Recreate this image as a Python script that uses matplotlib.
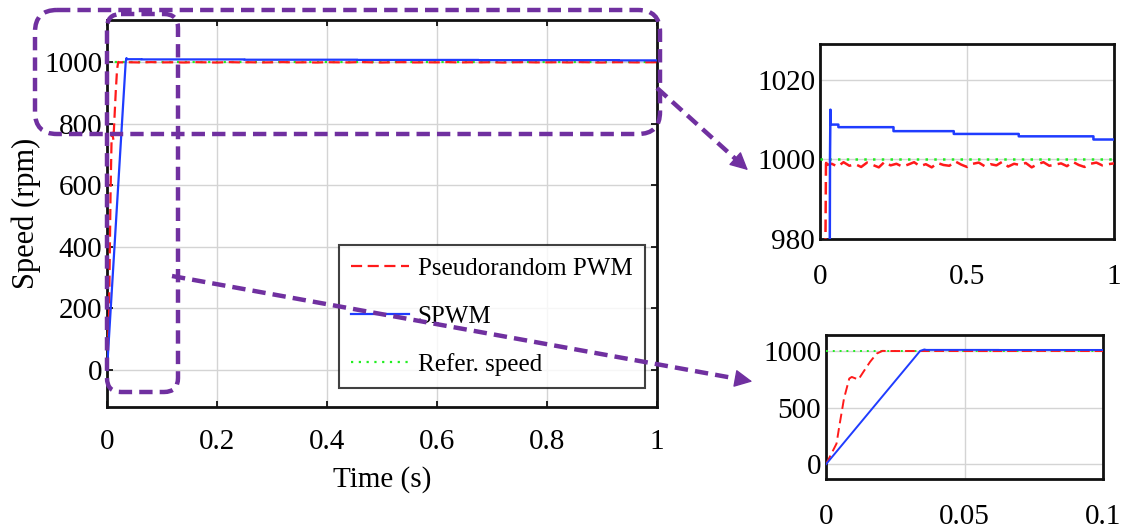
import matplotlib
matplotlib.use("Agg")
import matplotlib.pyplot as plt
import numpy as np
from matplotlib.patches import FancyBboxPatch

plt.rcParams['font.family'] = ['Liberation Serif', 'DejaVu Serif']

# SPWM speed response: linear ramp, small overshoot, then slowly falling plateaus
spwm_t = [0, 0.034, 0.0355, 0.0362, 0.0625, 0.0625, 0.25, 0.25, 0.455, 0.455,
          0.676, 0.676, 0.93, 0.93, 1.0]
spwm_v = [0, 1000, 1012.5, 1008.75, 1008.75, 1008.1, 1008.1, 1007.1, 1007.1, 1006.4,
          1006.4, 1005.8, 1005.8, 1005.0, 1005.0]

# pseudorandom PWM: faster start-up, then rippling just below the reference
prpwm_start_t = [0, 0.0038, 0.0048, 0.0065, 0.0084, 0.0093, 0.0117, 0.0135, 0.0159,
                 0.0183, 0.0204, 0.022]
prpwm_start_v = [0, 182, 335, 580, 756, 770, 747, 815, 903, 976, 1000, 998.6]
prpwm_ripple = [998.9, 998.2, 999.3, 998.4, 998.8, 998.1, 999.2, 998.6, 998.0, 999.4,
                998.5, 998.9, 998.2, 998.7, 999.3, 998.3, 998.8, 998.0, 999.1, 998.6,
                998.4, 999.5, 998.7, 998.1, 998.9, 999.2, 998.3, 998.8, 998.5, 999.4,
                998.2, 998.9, 998.6, 999.1, 998.0, 998.8, 999.3, 998.4, 998.7, 999.0,
                998.3, 999.4, 998.6, 998.1, 998.9, 999.2, 998.5, 998.8, 999.0]
prpwm_t = prpwm_start_t + list(np.linspace(0.04, 1.0, len(prpwm_ripple)))
prpwm_v = prpwm_start_v + prpwm_ripple

ref_t = [0, 1.0]
ref_v = [1000, 1000]

main_xticks = [0, 0.2, 0.4, 0.6, 0.8, 1]
main_xlabels = ['0', '0.2', '0.4', '0.6', '0.8', '1']
main_yticks = [0, 200, 400, 600, 800, 1000]

purple = '#7030a0'
red = '#ff1a1a'
blue = '#1f3cff'
green = '#22ee22'
fs = 21

W, H = 1122, 531
fig = plt.figure(figsize=(W / 100, H / 100), dpi=100)


def draw_series(ax, lw=1.6):
    ax.plot(ref_t, ref_v, color=green, linestyle=(0, (1, 2.5)), lw=lw, zorder=3,
            label='Refer. speed')
    ax.plot(prpwm_t, prpwm_v, color=red, linestyle=(0, (5, 2.5)), lw=lw, zorder=4,
            label='Pseudorandom PWM')
    ax.plot(spwm_t, spwm_v, color=blue, lw=lw, zorder=5, label='SPWM')


def style_axes(ax, xpad):
    for s in ax.spines.values():
        s.set_linewidth(2)
        s.set_color('#111111')
    ax.grid(True, color='#d4d4d4', lw=1)
    ax.set_axisbelow(True)
    ax.tick_params(direction='in', top=True, right=True, length=4, width=1.2,
                   labelsize=fs)
    ax.tick_params(axis='x', pad=xpad)


# main plot
ax = fig.add_axes([107 / W, 1 - 407 / H, 550 / W, 387 / H])
draw_series(ax)
ax.set_xlim(0, 1)
ax.set_ylim(-120, 1136)
ax.set_xticks(main_xticks)
ax.set_xticklabels(main_xlabels)
ax.set_yticks(main_yticks)
style_axes(ax, 16)
ax.set_xlabel('Time (s)', fontsize=fs, labelpad=8)
ax.set_ylabel('Speed (rpm)', fontsize=22, labelpad=2)
handles, labels = ax.get_legend_handles_labels()
order = [1, 2, 0]
leg = ax.legend([handles[i] for i in order], [labels[i] for i in order],
                loc='lower right', bbox_to_anchor=(0.978, 0.049), borderaxespad=0,
                fontsize=18, frameon=True, fancybox=False, edgecolor='#111111',
                handlelength=2.3, handletextpad=0.35, labelspacing=1.0,
                borderpad=0.5)
leg.get_frame().set_linewidth(1.5)

# zoom on the steady state
ax1 = fig.add_axes([820 / W, 1 - 239 / H, 294 / W, 195 / H])
draw_series(ax1, lw=1.8)
ax1.set_xlim(0, 1)
ax1.set_ylim(980, 1029)
ax1.set_xticks([0, 0.5, 1])
ax1.set_xticklabels(['0', '0.5', '1'])
ax1.set_yticks([980, 1000, 1020])
style_axes(ax1, 18)
ax1.tick_params(length=0)

# zoom on the start-up
ax2 = fig.add_axes([826 / W, 1 - 479 / H, 277 / W, 144 / H])
draw_series(ax2, lw=1.4)
ax2.set_xlim(0, 0.1)
ax2.set_ylim(-130, 1140)
ax2.set_xticks([0, 0.05, 0.1])
ax2.set_xticklabels(['0', '0.05', '0.1'])
ax2.set_yticks([0, 500, 1000])
style_axes(ax2, 18)
ax2.tick_params(length=0)

# purple dashed call-outs drawn in pixel coordinates
ov = fig.add_axes([0, 0, 1, 1], zorder=10)
ov.set_xlim(0, W)
ov.set_ylim(H, 0)
ov.axis('off')
ov.patch.set_alpha(0)

box_style = dict(fill=False, edgecolor=purple, lw=3.2, linestyle=(0, (3, 1.6)))
ov.add_patch(FancyBboxPatch((35, 10), 625, 124,
                            boxstyle='round,pad=0,rounding_size=22', **box_style))
ov.add_patch(FancyBboxPatch((107, 14), 71, 378,
                            boxstyle='round,pad=0,rounding_size=14', **box_style))

for (x0, y0), (x1, y1) in [((657, 88), (750, 172)), ((172, 276), (755, 382))]:
    d = np.hypot(x1 - x0, y1 - y0)
    ux, uy = (x1 - x0) / d, (y1 - y0) / d
    ov.plot([x0, x1 - 14 * ux], [y0, y1 - 14 * uy], color=purple, lw=3.2,
            linestyle=(0, (3, 1.6)))
    ov.annotate('', xy=(x1, y1), xytext=(x1 - 16 * ux, y1 - 16 * uy),
                arrowprops=dict(arrowstyle='-|>', color=purple, lw=1,
                                mutation_scale=28))

fig.savefig('out.png', dpi=100)
